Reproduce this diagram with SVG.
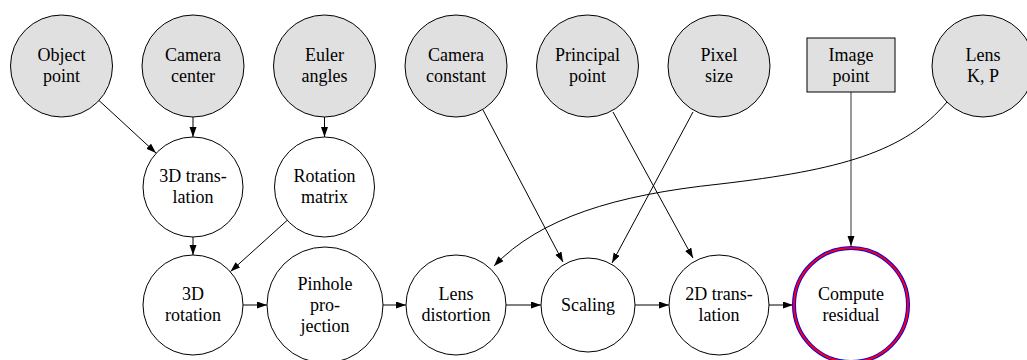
<svg xmlns="http://www.w3.org/2000/svg" width="1027" height="360" viewBox="0 0 1027 360" font-family="'Liberation Serif', 'Times New Roman', serif">
<defs>
<marker id="ah" markerUnits="userSpaceOnUse" markerWidth="11" markerHeight="8" refX="10" refY="3.5" orient="auto">
<path d="M0,0 L10,3.5 L0,7 z" fill="#000"/>
</marker>
</defs>
<style>
.in circle, .in rect { fill: #e0e0e0; stroke: #000; stroke-width: 1; }
.op circle { fill: #fff; stroke: #000; stroke-width: 1; }
text { font-family: "Liberation Serif", "Times New Roman", serif; font-size: 18px; text-anchor: middle; fill: #000; }
.e { fill: none; stroke: #000; stroke-width: 1; marker-end: url(#ah); }
</style>
<rect width="1027" height="360" fill="#fff"/>
<g id="connectors">
<line class="e" x1="99" y1="100.5" x2="156" y2="153"/>
<line class="e" x1="193" y1="117" x2="193" y2="137"/>
<line class="e" x1="324.5" y1="117" x2="324.5" y2="137"/>
<line class="e" x1="193" y1="237" x2="193" y2="255"/>
<line class="e" x1="287" y1="220.5" x2="230.5" y2="271.5"/>
<line class="e" x1="243" y1="305" x2="267" y2="305"/>
<line class="e" x1="382" y1="305" x2="406" y2="305"/>
<line class="e" x1="506" y1="305" x2="541" y2="305"/>
<line class="e" x1="635" y1="305" x2="669" y2="305"/>
<line class="e" x1="769" y1="305" x2="793" y2="305"/>
<line class="e" x1="483" y1="110" x2="563" y2="262"/>
<line class="e" x1="613" y1="112" x2="693" y2="258"/>
<line class="e" x1="693" y1="112" x2="612" y2="263"/>
<line class="e" x1="851" y1="92" x2="851" y2="246" style="stroke:#808080;stroke-width:1.6"/>
<path class="e" d="M947,102 C905,152 840,170 720,184 C615,195 540,218 494,266"/>
</g>
<g id="object-point" class="in"><circle cx="61.5" cy="66" r="51"/><text x="61.5" y="61">Object</text><text x="61.5" y="82">point</text></g>
<g id="camera-center" class="in"><circle cx="193" cy="66" r="51"/><text x="193" y="61">Camera</text><text x="193" y="82">center</text></g>
<g id="euler-angles" class="in"><circle cx="324.5" cy="66" r="51"/><text x="324.5" y="61">Euler</text><text x="324.5" y="82">angles</text></g>
<g id="camera-constant" class="in"><circle cx="456" cy="66" r="51"/><text x="456" y="61">Camera</text><text x="456" y="82">constant</text></g>
<g id="principal-point" class="in"><circle cx="587.5" cy="66" r="51"/><text x="587.5" y="61">Principal</text><text x="587.5" y="82">point</text></g>
<g id="pixel-size" class="in"><circle cx="719" cy="66" r="51"/><text x="719" y="61">Pixel</text><text x="719" y="82">size</text></g>
<g id="image-point" class="in"><rect x="807" y="38" width="88" height="54"/><text x="851" y="61">Image</text><text x="851" y="82">point</text></g>
<g id="lens-kp" class="in"><circle cx="983" cy="66" r="51"/><text x="983" y="61">Lens</text><text x="983" y="82">K, P</text></g>
<g id="translation-3d" class="op"><circle cx="193" cy="187" r="50"/><text x="193" y="182">3D trans-</text><text x="193" y="203">lation</text></g>
<g id="rotation-matrix" class="op"><circle cx="324.5" cy="187" r="50"/><text x="324.5" y="182">Rotation</text><text x="324.5" y="203">matrix</text></g>
<g id="rotation-3d" class="op"><circle cx="193" cy="305" r="50"/><text x="193" y="300">3D</text><text x="193" y="321">rotation</text></g>
<g id="pinhole-projection" class="op"><circle cx="325" cy="305" r="58"/><text x="325" y="290">Pinhole</text><text x="325" y="311">pro-</text><text x="325" y="332">jection</text></g>
<g id="lens-distortion" class="op"><circle cx="456" cy="305" r="50"/><text x="456" y="300">Lens</text><text x="456" y="321">distortion</text></g>
<g id="scaling" class="op"><circle cx="588" cy="305" r="47"/><text x="588" y="311">Scaling</text></g>
<g id="translation-2d" class="op"><circle cx="719" cy="305" r="50"/><text x="719" y="300">2D trans-</text><text x="719" y="321">lation</text></g>
<g id="compute-residual"><circle cx="851" cy="305" r="57" fill="#fff" stroke="#0000ff" stroke-width="4"/><circle cx="851" cy="305" r="57" fill="none" stroke="#ff0000" stroke-width="2"/><text x="851" y="300">Compute</text><text x="851" y="321">residual</text></g>
</svg>
